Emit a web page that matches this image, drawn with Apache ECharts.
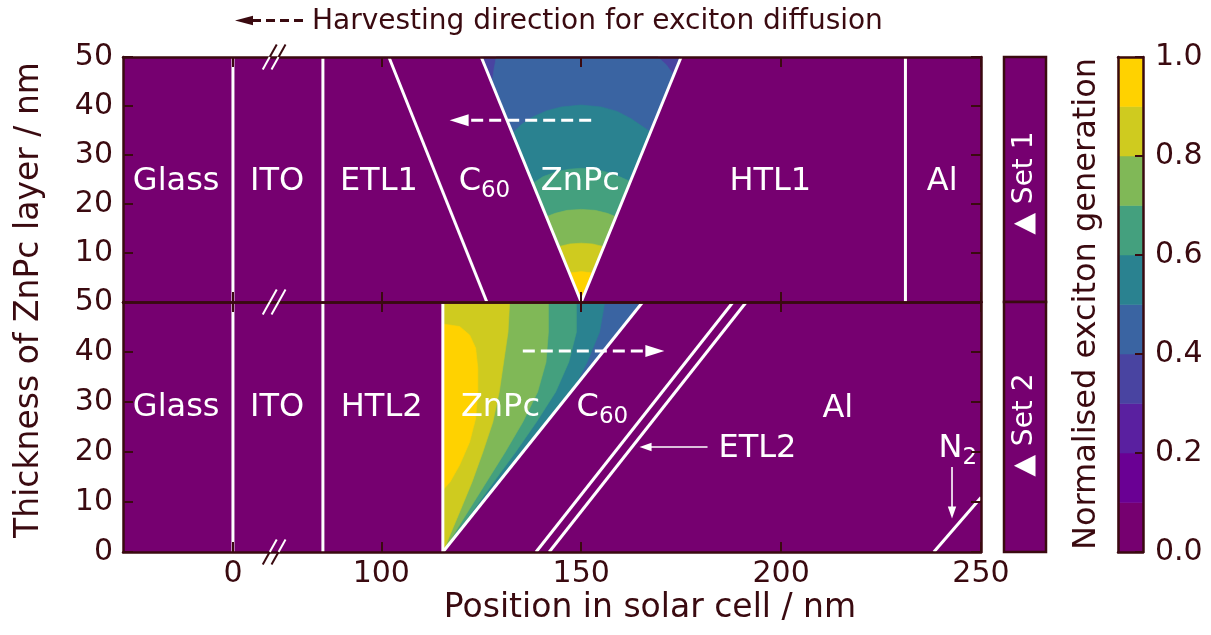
<!DOCTYPE html>
<html>
<head>
<meta charset="utf-8">
<script src="https://cdn.jsdelivr.net/npm/echarts@6/dist/echarts.min.js"></script>
<style>
  html, body { margin: 0; padding: 0; background: #ffffff; }
  #chart { width: 1211px; height: 635px; }
</style>
</head>
<body>
<div id="chart"></div>
<script>
// ---- axes -------------------------------------------------------------
// The position axis is broken between glass and ITO: "0" sits at the glass/ITO interface.
const xRange = [35.4, 250];
const xTickPos = [62.9, 100, 150, 200, 250];
const xTickLabels = ['0', '100', '150', '200', '250'];
const yRange = [0, 50];

// ---- colour levels of normalised exciton generation --------------------
const levelEdges = [0, 0.1, 0.2, 0.3, 0.4, 0.5, 0.6, 0.7, 0.8, 0.9, 1.0];
const levelColors = ['#760070', '#6a0094', '#5a20a0', '#4944a1', '#3a64a2',
                     '#2a8290', '#44a07e', '#80b857', '#cfcb1f', '#ffd200'];

// ---- layer interfaces [x0, t0, x1, t1] (position / nm, ZnPc thickness / nm)
const set1Interfaces = [
  [62.9, 0, 62.9, 50],     // glass | ITO
  [85.4, 0, 85.4, 50],     // ITO | ETL1
  [126.4, 0, 101.9, 50],   // ETL1 | C60
  [150, 0, 125, 50],       // C60 | ZnPc
  [150, 0, 175, 50],       // ZnPc | HTL1
  [231.1, 0, 231.1, 50]    // HTL1 | Al
];
const set2Interfaces = [
  [62.9, 0, 62.9, 50],     // glass | ITO
  [85.4, 0, 85.4, 50],     // ITO | HTL2
  [115.4, 0, 115.4, 50],   // HTL2 | ZnPc
  [115.4, 0, 165.4, 50],   // ZnPc | C60
  [138.7, 0, 188.0, 50],   // C60 | ETL2
  [142.0, 0, 191.3, 50],   // ETL2 | Al
  [238.2, 0, 250.0, 10.9]  // Al | N2
];

// ---- ZnPc regions -------------------------------------------------------
const set1ZnPc = [[150, 0], [125, 50], [175, 50]];
const set2ZnPc = [[115.4, 0], [115.4, 50], [165.4, 50]];

// contour lines of the generation inside ZnPc, set 1 (edge to edge of the V)
const set1Level04 = [[127.7, 44.6], [128.2, 47.5], [128.75, 50], [169.15, 50], [171.3, 48.4], [173.15, 46.3]];
const set1Level05 = [[132.8, 34.4], [135.0, 36.2], [138.0, 37.8], [141.25, 39.0], [145.0, 39.8], [150.0, 40.2],
                     [155.0, 39.8], [159.0, 38.9], [162.5, 37.4], [165.0, 36.0], [167.35, 34.7]];
const set1Level06 = [[137.9, 24.2], [140.5, 25.6], [144.0, 26.6], [147.0, 27.1], [150.0, 27.3],
                     [153.0, 27.1], [156.0, 26.6], [159.5, 25.6], [162.3, 24.6]];
const set1Level07 = [[141.3, 17.4], [143.5, 18.1], [146.5, 18.7], [150.0, 18.9], [153.5, 18.7], [156.5, 18.1], [158.7, 17.4]];
const set1Level08 = [[144.35, 11.3], [147.2, 11.85], [150.0, 12.0], [152.8, 11.85], [155.65, 11.3]];
const set1Level09 = [[147.05, 5.9], [150.0, 6.2], [152.95, 5.9]];

// contour lines of the generation inside ZnPc, set 2 (top edge down to the C60 side)
const set2Level05 = [[155.9, 50], [154.6, 44], [151.5, 38], [148.2, 32.8]];
const set2Level06 = [[148.8, 50], [148.8, 44], [146.9, 38], [143.6, 32], [138.8, 26], [133.6, 20], [128.1, 14], [122.7, 8], [115.4, 0]];
const set2Level07 = [[141.8, 50], [141.8, 44], [141.2, 38], [139.1, 32], [135.4, 26], [131.0, 20], [126.3, 14], [121.6, 8], [115.4, 0]];
const set2Level08 = [[132.1, 50], [131.7, 44], [130.6, 38], [129.5, 32], [127.9, 26], [125.4, 20], [122.7, 14], [119.6, 8], [115.4, 0]];
// closed patch of the highest level against the HTL2 side
const set2Level09 = [[115.4, 45.6], [119.6, 45.1], [122.1, 43.4], [123.6, 40.8], [124.15, 36.75], [124.15, 32.1],
                     [123.6, 26.7], [122.1, 22.0], [119.6, 17.4], [117.2, 14.0], [115.4, 12.4]];

// ---- annotations --------------------------------------------------------
const set1Labels = [
  { text: 'Glass', at: [48.7, 24.5] }, { text: 'ITO', at: [73.95, 24.5] },
  { text: 'ETL1', at: [99.4, 24.5] },  { text: 'C{s|60}', at: [125.8, 24.0] },
  { text: 'ZnPc', at: [149.8, 24.5] }, { text: 'HTL1', at: [197.3, 24.5] },
  { text: 'Al', at: [240.3, 24.5] }
];
const set2Labels = [
  { text: 'Glass', at: [48.7, 28.8] }, { text: 'ITO', at: [73.95, 28.8] },
  { text: 'HTL2', at: [100.1, 28.8] }, { text: 'ZnPc', at: [129.8, 28.9] },
  { text: 'C{s|60}', at: [155.3, 28.3] }, { text: 'Al', at: [214.2, 28.7] },
  { text: 'ETL2', at: [194.1, 20.6] }, { text: 'N{s|2}', at: [244.2, 20.2] }
];
// arrows [x0, t0, x1, t1, style] style 0: dashed diffusion arrow, 1: thin pointer
const set1Arrows = [[152.5, 37.1, 117.1, 37.1, 0]];
const set2Arrows = [[135.4, 40.2, 170.8, 40.2, 0], [181.6, 21.0, 164.6, 21.0, 1], [242.75, 17.0, 242.75, 6.7, 1]];
// axis-break marks [x, t, outside side: 1 above, -1 below, 0 none]
const set1Breaks = [[73.2, 50, 1], [73.2, 0, 0]];
const set2Breaks = [[73.2, 0, -1]];

// ---- styling ------------------------------------------------------------
const PURPLE = levelColors[0];
const INK = '#3a0a10';
const WHITE = '#ffffff';
const FONT = 'DejaVu Sans';

function bandColor(level) { return levelColors[Math.round(level * 10)]; }

const set1Polys = [
  { pts: set1ZnPc, color: levelColors[3] },
  { pts: set1Level04.concat([set1ZnPc[0]]), color: bandColor(0.4) },
  { pts: set1Level05.concat([set1ZnPc[0]]), color: bandColor(0.5) },
  { pts: set1Level06.concat([set1ZnPc[0]]), color: bandColor(0.6) },
  { pts: set1Level07.concat([set1ZnPc[0]]), color: bandColor(0.7) },
  { pts: set1Level08.concat([set1ZnPc[0]]), color: bandColor(0.8) },
  { pts: set1Level09.concat([set1ZnPc[0]]), color: bandColor(0.9) }
];
const set2Polys = [
  { pts: set2ZnPc, color: levelColors[4] },
  { pts: [set2ZnPc[1]].concat(set2Level05, [set2ZnPc[0]]), color: bandColor(0.5) },
  { pts: [set2ZnPc[1]].concat(set2Level06), color: bandColor(0.6) },
  { pts: [set2ZnPc[1]].concat(set2Level07), color: bandColor(0.7) },
  { pts: [set2ZnPc[1]].concat(set2Level08), color: bandColor(0.8) },
  { pts: set2Level09, color: bandColor(0.9) }
];

function fillSeries(axisIdx, polys) {
  return {
    type: 'custom', xAxisIndex: axisIdx, yAxisIndex: axisIdx, silent: true, z: 2,
    data: polys.map(p => p.pts[0]),
    renderItem: (params, api) => {
      const p = polys[params.dataIndex];
      return { type: 'polygon', shape: { points: p.pts.map(q => api.coord(q)) },
               style: { fill: p.color, stroke: p.color, lineWidth: 0.6 } };
    }
  };
}

function interfaceSeries(axisIdx, segs) {
  return {
    type: 'custom', xAxisIndex: axisIdx, yAxisIndex: axisIdx, silent: true, z: 3,
    data: segs,
    renderItem: (params, api) => {
      const a = api.coord([api.value(0), api.value(1)]);
      const b = api.coord([api.value(2), api.value(3)]);
      return { type: 'line', shape: { x1: a[0], y1: a[1], x2: b[0], y2: b[1] },
               style: { stroke: WHITE, lineWidth: 3 } };
    }
  };
}

function arrowSeries(axisIdx, arrows) {
  return {
    type: 'custom', xAxisIndex: axisIdx, yAxisIndex: axisIdx, silent: true, z: 4,
    data: arrows,
    renderItem: (params, api) => {
      const a = api.coord([api.value(0), api.value(1)]);
      const b = api.coord([api.value(2), api.value(3)]);
      const dashed = api.value(4) === 0;
      const len = dashed ? 19 : 12, half = dashed ? 6 : 4.2;
      const dx = b[0] - a[0], dy = b[1] - a[1];
      const d = Math.sqrt(dx * dx + dy * dy);
      const ux = dx / d, uy = dy / d;
      const bx = b[0] - ux * len, by = b[1] - uy * len;
      return { type: 'group', children: [
        { type: 'line', shape: { x1: a[0], y1: a[1], x2: bx + ux * 2, y2: by + uy * 2 },
          style: { stroke: WHITE, lineWidth: dashed ? 3 : 1.6, lineDash: dashed ? [12, 6] : null } },
        { type: 'polygon', shape: { points: [[b[0], b[1]], [bx - uy * half, by + ux * half], [bx + uy * half, by - ux * half]] },
          style: { fill: WHITE } }
      ] };
    }
  };
}

function labelSeries(axisIdx, labels) {
  return {
    type: 'custom', xAxisIndex: axisIdx, yAxisIndex: axisIdx, silent: true, z: 5,
    data: labels.map(l => l.at),
    renderItem: (params, api) => {
      const l = labels[params.dataIndex];
      const p = api.coord(l.at);
      const rich = l.text.indexOf('{s|') >= 0;
      const txt = rich ? '{m|' + l.text.replace(/\{s\|/, '}{s|') : l.text;
      return { type: 'text', x: p[0], y: p[1],
        style: rich ? {
          text: txt, fill: WHITE, align: 'center', verticalAlign: 'middle',
          rich: {
            m: { fontSize: 32, fontFamily: FONT, fill: WHITE, verticalAlign: 'bottom', padding: [0, 0, 5, 0] },
            s: { fontSize: 23, fontFamily: FONT, fill: WHITE, verticalAlign: 'bottom' }
          }
        } : {
          text: txt, fill: WHITE, fontSize: 32, fontFamily: FONT, align: 'center', verticalAlign: 'middle'
        } };
    }
  };
}

function breakSeries(axisIdx, marks) {
  return {
    type: 'custom', xAxisIndex: axisIdx, yAxisIndex: axisIdx, silent: true, z: 12,
    data: marks,
    renderItem: (params, api) => {
      const c = api.coord([api.value(0), api.value(1)]);
      const side = api.value(2);
      const children = [];
      [-4.4, 4.4].forEach(o => {
        const cx = c[0] + o, cy = c[1];
        children.push({ type: 'line', shape: { x1: cx, y1: cy, x2: cx + 7, y2: cy - 12.5 },
                        style: { stroke: side === 1 ? INK : WHITE, lineWidth: 2 } });
        children.push({ type: 'line', shape: { x1: cx, y1: cy, x2: cx - 7, y2: cy + 12.5 },
                        style: { stroke: side === -1 ? INK : WHITE, lineWidth: 2 } });
      });
      return { type: 'group', children };
    }
  };
}

// ---- axis builders --------------------------------------------------------
const lineStyle = { color: INK, width: 2.5 };
function xPanelAxis(gridIndex, position, withLabels) {
  return {
    type: 'value', gridIndex, position, min: xRange[0], max: xRange[1], z: 10,
    axisLine: { show: true, onZero: false, lineStyle },
    axisTick: { show: true, inside: true, length: 10, customValues: xTickPos, lineStyle: { color: INK, width: 2 } },
    axisLabel: withLabels ? {
      show: true, customValues: xTickPos, margin: 7, color: INK, fontSize: 30, fontFamily: FONT,
      formatter: (v) => xTickLabels[xTickPos.indexOf(v)]
    } : { show: false },
    splitLine: { show: false }
  };
}
function yPanelAxis(gridIndex, position, withLabels, showMin) {
  return {
    type: 'value', gridIndex, position, min: yRange[0], max: yRange[1], interval: 10, z: 10,
    axisLine: { show: true, onZero: false, lineStyle },
    axisTick: { show: true, inside: true, length: 10, lineStyle: { color: INK, width: 2 } },
    axisLabel: withLabels ? { show: true, margin: 10, color: INK, fontSize: 30, fontFamily: FONT, showMinLabel: showMin }
                          : { show: false },
    splitLine: { show: false }
  };
}
function hiddenAxis(gridIndex, min, max) {
  return { type: 'value', gridIndex, min, max, show: false };
}

const option = {
  animation: false,
  backgroundColor: '#ffffff',
  textStyle: { fontFamily: FONT },
  grid: [
    { left: 123, top: 57, width: 858, height: 245, show: true, backgroundColor: PURPLE, borderWidth: 0, outerBoundsMode: 'none' },
    { left: 123, top: 302, width: 858, height: 250, show: true, backgroundColor: PURPLE, borderWidth: 0, outerBoundsMode: 'none' },
    { left: 1004, top: 57, width: 42, height: 245, show: true, backgroundColor: PURPLE, borderColor: INK, borderWidth: 2.5, outerBoundsMode: 'none' },
    { left: 1004, top: 302, width: 42, height: 250, show: true, backgroundColor: PURPLE, borderColor: INK, borderWidth: 2.5, outerBoundsMode: 'none' },
    { left: 1118, top: 57, width: 25, height: 495, show: false, outerBoundsMode: 'none' }
  ],
  xAxis: [
    xPanelAxis(0, 'bottom', false),
    xPanelAxis(0, 'top', false),
    xPanelAxis(1, 'bottom', true),
    xPanelAxis(1, 'top', false),
    hiddenAxis(2, 0, 1),
    hiddenAxis(3, 0, 1),
    { type: 'value', gridIndex: 4, position: 'bottom', min: 0, max: 1, z: 10,
      axisLine: { show: true, onZero: false, lineStyle }, axisTick: { show: false }, axisLabel: { show: false }, splitLine: { show: false } },
    { type: 'value', gridIndex: 4, position: 'top', min: 0, max: 1, z: 10,
      axisLine: { show: true, onZero: false, lineStyle }, axisTick: { show: false }, axisLabel: { show: false }, splitLine: { show: false } }
  ],
  yAxis: [
    yPanelAxis(0, 'left', true, false),
    yPanelAxis(0, 'right', false, false),
    yPanelAxis(1, 'left', true, true),
    yPanelAxis(1, 'right', false, false),
    hiddenAxis(2, 0, 1),
    hiddenAxis(3, 0, 1),
    { type: 'value', gridIndex: 4, position: 'right', min: 0, max: 1, interval: 0.2, z: 10,
      axisLine: { show: true, onZero: false, lineStyle },
      axisTick: { show: true, inside: true, length: 8, lineStyle: { color: INK, width: 2 } },
      axisLabel: { show: true, margin: 12, color: INK, fontSize: 30, fontFamily: FONT, formatter: v => v.toFixed(1) },
      splitLine: { show: false } },
    { type: 'value', gridIndex: 4, position: 'left', min: 0, max: 1, z: 10,
      axisLine: { show: true, onZero: false, lineStyle }, axisTick: { show: false }, axisLabel: { show: false }, splitLine: { show: false } }
  ],
  series: [
    fillSeries(0, set1Polys),
    interfaceSeries(0, set1Interfaces),
    arrowSeries(0, set1Arrows),
    labelSeries(0, set1Labels),
    breakSeries(0, set1Breaks),
    fillSeries(2, set2Polys),
    interfaceSeries(2, set2Interfaces),
    arrowSeries(2, set2Arrows),
    labelSeries(2, set2Labels),
    breakSeries(2, set2Breaks),
    {
      // colour bar, one block per level
      type: 'custom', xAxisIndex: 6, yAxisIndex: 6, silent: true, z: 2,
      data: levelColors.map((c, i) => [levelEdges[i], levelEdges[i + 1]]),
      renderItem: (params, api) => {
        const p0 = api.coord([0, api.value(0)]);
        const p1 = api.coord([1, api.value(1)]);
        return { type: 'rect', shape: { x: p0[0], y: p1[1], width: p1[0] - p0[0], height: p0[1] - p1[1] },
                 style: { fill: levelColors[params.dataIndex], stroke: levelColors[params.dataIndex], lineWidth: 0.5 } };
      }
    }
  ],
  graphic: [
    // header: harvesting direction key
    { type: 'polygon', shape: { points: [[235, 20.5], [253, 15.8], [253, 25.2]] }, style: { fill: INK } },
    { type: 'line', shape: { x1: 252, y1: 20.5, x2: 306, y2: 20.5 }, style: { stroke: INK, lineWidth: 3, lineDash: [9, 5] } },
    { type: 'text', x: 312, y: 21.5, style: { text: 'Harvesting direction for exciton diffusion', fill: INK,
      fontSize: 28, fontFamily: FONT, align: 'left', verticalAlign: 'middle' } },
    // axis titles
    { type: 'text', x: 29, y: 300, rotation: Math.PI / 2, style: { text: 'Thickness of ZnPc layer / nm', fill: INK,
      fontSize: 33, fontFamily: FONT, align: 'center', verticalAlign: 'middle' } },
    { type: 'text', x: 650, y: 608, style: { text: 'Position in solar cell / nm', fill: INK,
      fontSize: 33, fontFamily: FONT, align: 'center', verticalAlign: 'middle' } },
    { type: 'text', x: 1087, y: 304, rotation: Math.PI / 2, style: { text: 'Normalised exciton generation', fill: INK,
      fontSize: 32, fontFamily: FONT, align: 'center', verticalAlign: 'middle' } },
    // set tags
    { type: 'text', x: 1025, y: 183, rotation: Math.PI / 2, z: 20, style: { text: '▲ Set 1', fill: WHITE,
      fontSize: 28, fontFamily: FONT, align: 'center', verticalAlign: 'middle' } },
    { type: 'text', x: 1025, y: 425, rotation: Math.PI / 2, z: 20, style: { text: '▲ Set 2', fill: WHITE,
      fontSize: 28, fontFamily: FONT, align: 'center', verticalAlign: 'middle' } }
  ]
};

const chart = echarts.init(document.getElementById('chart'), null, { renderer: 'canvas' });
chart.setOption(option);
</script>
</body>
</html>
